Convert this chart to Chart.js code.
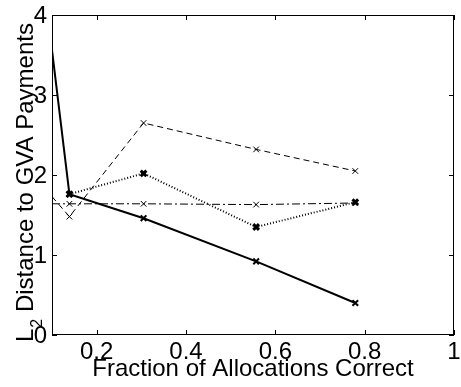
<!DOCTYPE html>
<html>
<head>
<meta charset="utf-8">
<script src="https://cdn.jsdelivr.net/npm/chart.js@4.4.0/dist/chart.umd.min.js"></script>
<style>
  html, body { margin: 0; padding: 0; background: #fff; }
</style>
</head>
<body>
<canvas id="c" width="461" height="387"></canvas>
<script>
// tick labels
const xTicks = [0.2, 0.4, 0.6, 0.8, 1];
const yTicks = [0, 1, 2, 3, 4];

// series
const solidX = [0.1, 0.139, 0.305, 0.557, 0.779];
const solidY = [3.56, 1.76, 1.46, 0.92, 0.40];
const dashedX = [0.1, 0.139, 0.305, 0.557, 0.779];
const dashedY = [1.73, 1.48, 2.65, 2.32, 2.05];
const dashDotX = [0.1, 0.139, 0.305, 0.557, 0.779];
const dashDotY = [1.64, 1.64, 1.64, 1.63, 1.65];
const dottedX = [0.139, 0.305, 0.557, 0.779];
const dottedY = [1.76, 2.02, 1.35, 1.66];

const FONT = "'Liberation Sans', Arial, Helvetica, sans-serif";

function pts(xs, ys) {
  return xs.map((x, i) => ({ x: x, y: ys[i] }));
}

// box, inward ticks and the y title with a subscript
const framePlugin = {
  id: 'frame',
  afterDraw(chart) {
    const { ctx, chartArea: a, scales } = chart;
    const xs = scales.x, ys = scales.y;
    ctx.save();
    ctx.strokeStyle = '#000';
    ctx.lineWidth = 1;
    ctx.strokeRect(a.left + 0.5, a.top + 0.5, a.right - a.left - 1, a.bottom - a.top - 1);
    const tl = 5;
    ctx.beginPath();
    xTicks.forEach(v => {
      const px = Math.round(xs.getPixelForValue(v)) + 0.5;
      ctx.moveTo(px, a.bottom); ctx.lineTo(px, a.bottom - tl);
      ctx.moveTo(px, a.top); ctx.lineTo(px, a.top + tl);
    });
    yTicks.forEach(v => {
      const py = Math.round(ys.getPixelForValue(v)) + 0.5;
      ctx.moveTo(a.left, py); ctx.lineTo(a.left + tl, py);
      ctx.moveTo(a.right, py); ctx.lineTo(a.right - tl, py);
    });
    ctx.stroke();

    // y axis title: L_2 Distance to GVA Payments (reads bottom to top)
    const big = '24px ' + FONT, small = '16px ' + FONT;
    ctx.translate(33, 342);
    ctx.rotate(-Math.PI / 2);
    ctx.fillStyle = '#000';
    ctx.textBaseline = 'alphabetic';
    ctx.textAlign = 'left';
    ctx.font = big;
    ctx.fillText('L', 0, 0);
    const wL = ctx.measureText('L').width;
    ctx.font = small;
    ctx.fillText('2', wL + 1, 9);
    const w2 = ctx.measureText('2').width;
    ctx.font = big;
    ctx.fillText(' Distance to GVA Payments', wL + w2 + 1, 0);
    ctx.restore();
  }
};

const marker = { pointStyle: 'crossRot', pointRadius: 4, pointHoverRadius: 4 };

new Chart(document.getElementById('c'), {
  type: 'line',
  data: {
    datasets: [
      Object.assign({}, marker, {
        data: pts(solidX, solidY),
        borderColor: '#000', backgroundColor: '#000',
        borderWidth: 2, pointBorderWidth: 2,
        pointRadius: [0, 4, 4, 4, 4]
      }),
      Object.assign({}, marker, {
        data: pts(dashedX, dashedY),
        borderColor: '#000', backgroundColor: '#000',
        borderWidth: 1, borderDash: [6, 4], pointBorderWidth: 1,
        pointRadius: [0, 4, 4, 4, 4]
      }),
      Object.assign({}, marker, {
        data: pts(dashDotX, dashDotY),
        borderColor: '#000', backgroundColor: '#000',
        borderWidth: 1, borderDash: [8, 3, 2, 3], pointBorderWidth: 1,
        pointRadius: [0, 4, 4, 4, 4]
      }),
      Object.assign({}, marker, {
        data: pts(dottedX, dottedY),
        borderColor: '#000', backgroundColor: '#000',
        borderWidth: 2, borderDash: [1, 2], pointBorderWidth: 3
      })
    ]
  },
  options: {
    responsive: false,
    animation: false,
    devicePixelRatio: 1,
    layout: { padding: { top: 15, right: 1, left: 0, bottom: 0 } },
    plugins: { legend: { display: false }, tooltip: { enabled: false } },
    elements: { line: { tension: 0 } },
    scales: {
      x: {
        type: 'linear', min: 0.1, max: 1,
        afterBuildTicks: s => { s.ticks = xTicks.map(v => ({ value: v })); },
        afterFit: s => { s.paddingLeft = 0; s.paddingRight = 0; s.height = 52; },
        grid: { display: false, drawTicks: false },
        border: { display: false },
        ticks: { color: '#000', font: { family: FONT, size: 24 }, padding: 3, maxRotation: 0,
                 autoSkip: false, callback: v => String(v) },
        title: { display: true, text: 'Fraction of Allocations Correct', color: '#000',
                 font: { family: FONT, size: 24 }, padding: { top: 0, bottom: 3 } }
      },
      y: {
        type: 'linear', min: 0, max: 4,
        afterBuildTicks: s => { s.ticks = yTicks.map(v => ({ value: v })); },
        afterFit: s => { s.width = 52; s.paddingTop = 0; s.paddingBottom = 0; },
        grid: { display: false, drawTicks: false },
        border: { display: false },
        ticks: { color: '#000', font: { family: FONT, size: 24 }, padding: 5, labelOffset: 1,
                 callback: v => String(v) }
      }
    }
  },
  plugins: [framePlugin]
});
</script>
</body>
</html>
